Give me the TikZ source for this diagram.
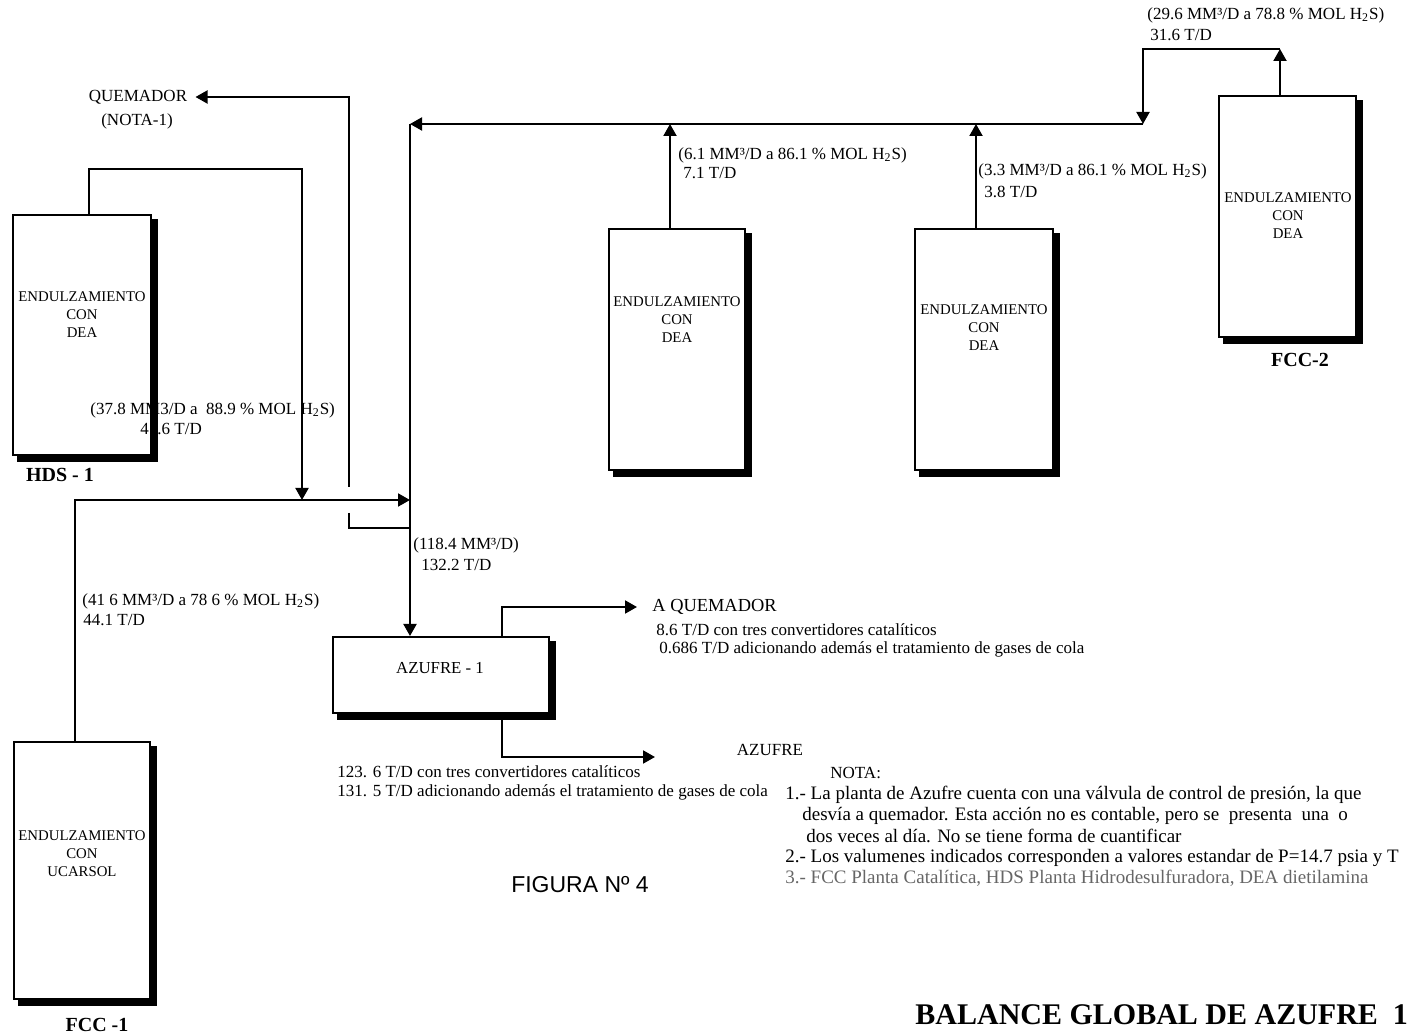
\documentclass[tikz,border=0pt]{standalone}
\usepackage{fontspec}
\setmainfont{Liberation Serif}
\newfontfamily\figfont{Liberation Sans}
\usetikzlibrary{positioning,arrows.meta,calc}

\newcommand{\htwos}{H\textsubscript{2}S}

\tikzset{
  pipe/.style={line width=1pt, -{Triangle[length=6pt,width=6.5pt]}},
  plainpipe/.style={line width=1pt},
  unitbox/.style={draw, line width=1pt, inner sep=0pt},
  unittext/.style={font=\fontsize{7.4}{9}\selectfont, align=center, inner sep=0pt},
  flowtext/.style={anchor=west, inner sep=0pt, font=\fontsize{8.5}{10}\selectfont},
  smalltext/.style={anchor=west, inner sep=0pt, font=\fontsize{8.5}{10}\selectfont},
  notetext/.style={anchor=west, inner sep=0pt, font=\fontsize{9.5}{11}\selectfont},
  tagtext/.style={inner sep=0pt, font=\fontsize{10}{12}\selectfont\bfseries},
}

\begin{document}
\begin{tikzpicture}[x=0.5pt, y=-0.5pt]
\useasboundingbox (0,0) rectangle (1407,1036);

% unidades
\node[unitbox, minimum width=69pt, minimum height=120pt] (hds) at (82,335) {};
\node[unitbox, minimum width=68pt, minimum height=128.5pt] (fccone) at (82,870.5) {};
\node[unitbox, minimum width=68pt, minimum height=120.5pt] (deaA) at (677,349.5) {};
\node[unitbox, minimum width=69pt, minimum height=120.5pt] (deaB) at (984,349.5) {};
\node[unitbox, minimum width=68.5pt, minimum height=120.5pt] (fcctwo) at (1287.5,216.5) {};
\node[unitbox, minimum width=108pt, minimum height=38pt] (azufre) at (441,675) {};

\node[unittext] (hdstxt) at (82,315) {ENDULZAMIENTO\\CON\\DEA};
\node[unittext] (fcconetxt) at (82,854) {ENDULZAMIENTO\\CON\\UCARSOL};
\node[unittext] (deaAtxt) at (677,320) {ENDULZAMIENTO\\CON\\DEA};
\node[unittext] (deaBtxt) at (984,328) {ENDULZAMIENTO\\CON\\DEA};
\node[unittext] (fcctwotxt) at (1288,216) {ENDULZAMIENTO\\CON\\DEA};
\node[unittext, font=\fontsize{8.4}{10}\selectfont] (azufretxt) at (440,668) {AZUFRE - 1};

\node[tagtext] (hdstag) at (60,475) {HDS - 1};
\node[tagtext] (fcconetag) at (97,1025) {FCC -1};
\node[tagtext] (fcctwotag) at (1300,360) {FCC-2};

% corrientes
\node[flowtext] (hdsgas) at (90,410) {(37.8 MM3/D a \ 88.9 \% MOL \htwos)};
\node[flowtext] (hdsrate) at (140,429) {41.6 T/D};
\node[flowtext] (fccgas) at (82,601) {(41 6 MM³/D a 78 6 \% MOL \htwos)};
\node[flowtext] (fccrate) at (83,620) {44.1 T/D};
\node[flowtext] (totgas) at (413,545) {(118.4 MM³/D)};
\node[flowtext] (totrate) at (421,565) {132.2 T/D};
\node[flowtext] (deaAgas) at (678,155) {(6.1 MM³/D a 86.1 \% MOL \htwos)};
\node[flowtext] (deaArate) at (683,173) {7.1 T/D};
\node[flowtext] (deaBgas) at (978,171) {(3.3 MM³/D a 86.1 \% MOL \htwos)};
\node[flowtext] (deaBrate) at (984,192) {3.8 T/D};
\node[flowtext] (fcctwogas) at (1147,15) {(29.6 MM³/D a 78.8 \% MOL \htwos)};
\node[flowtext] (fcctworate) at (1150,35) {31.6 T/D};

\node[flowtext, anchor=center] (quem) at (138,97) {QUEMADOR};
\node[flowtext, anchor=center] (nota) at (137,121) {(NOTA-1)};

\node[flowtext, font=\fontsize{9.2}{11}\selectfont] (aquem) at (652,607) {A QUEMADOR};
\node[smalltext] (aquem1) at (656,630) {8.6 T/D con tres convertidores catalíticos};
\node[smalltext] (aquem2) at (659,649) {0.686 T/D adicionando además el tratamiento de gases de cola};
\node[flowtext, anchor=center] (azprod) at (770,750) {AZUFRE};
\node[smalltext] (azprod1) at (337,772) {123. 6 T/D con tres convertidores catalíticos};
\node[smalltext] (azprod2) at (337,792) {131. 5 T/D adicionando además el tratamiento de gases de cola};

% notas
\node[flowtext] (notatit) at (830,773) {NOTA:};
\node[notetext] (nota1) at (785,795) {1.- La planta de Azufre cuenta con una válvula de control de presión, la que};
\node[notetext] (nota2) at (802,816) {desvía a quemador. Esta acción no es contable, pero se \ presenta \ una \ o};
\node[notetext] (nota3) at (806,836) {dos veces al día. No se tiene forma de cuantificar};
\node[notetext] (nota4) at (785,858) {2.- Los valumenes indicados corresponden a valores estandar de P=14.7 psia y T};
\node[notetext, text=black!60] (nota5) at (785,878) {3.- FCC Planta Catalítica, HDS Planta Hidrodesulfuradora, DEA dietilamina};

\node[inner sep=0pt, font=\figfont\fontsize{11.5}{13}\selectfont] (fig) at (580,885) {FIGURA Nº 4};
\node[anchor=west, inner sep=0pt, font=\fontsize{15}{18}\selectfont\bfseries] (titulo) at (915,1015) {BALANCE GLOBAL DE AZUFRE \ 1};

% sombras
\foreach \b in {hds,fccone,deaA,deaB,fcctwo,azufre}{
  \fill ($(\b.north east)+(0,5)$) rectangle ($(\b.south east)+(6,6)$);
  \fill ($(\b.south west)+(5,0)$) rectangle ($(\b.south east)+(6,6)$);
}

% tuberias
\coordinate (h1) at (89,169);
\coordinate (j1) at (302,500);
\coordinate (f1) at (75,500);
\coordinate (m1) at (410,500);
\coordinate (c0) at (410,124);
\coordinate (c1) at (1143,124);
\coordinate (a1) at (670,124);
\coordinate (b1) at (976,124);
\coordinate (t1) at (1280,49);
\coordinate (q0) at (349,487);
\coordinate (q2) at (349,513);
\coordinate (q3) at (410,528);
\coordinate (z1) at (502,607);
\coordinate (z2) at (637,607);
\coordinate (z3) at (655,757);

\draw[pipe] (hds.north -| h1) -- (h1) -| (j1);
\draw[pipe] (fccone.north -| f1) -- (f1) -- (m1);
\draw[pipe] (q0) |- ([xshift=4pt]quem.east);
\draw[plainpipe] (q2) |- (q3);
\draw[pipe] (c1) -- (c0);
\draw[pipe] (c0) -- (azufre.north -| c0);
\draw[pipe] (deaA.north -| a1) -- (a1);
\draw[pipe] (deaB.north -| b1) -- (b1);
\draw[pipe] (fcctwo.north -| t1) -- (t1);
\draw[pipe] (t1) -| (c1);
\draw[pipe] (azufre.north -| z1) |- (z2);
\draw[pipe] (azufre.south -| z1) |- (z3);
\end{tikzpicture}
\end{document}
